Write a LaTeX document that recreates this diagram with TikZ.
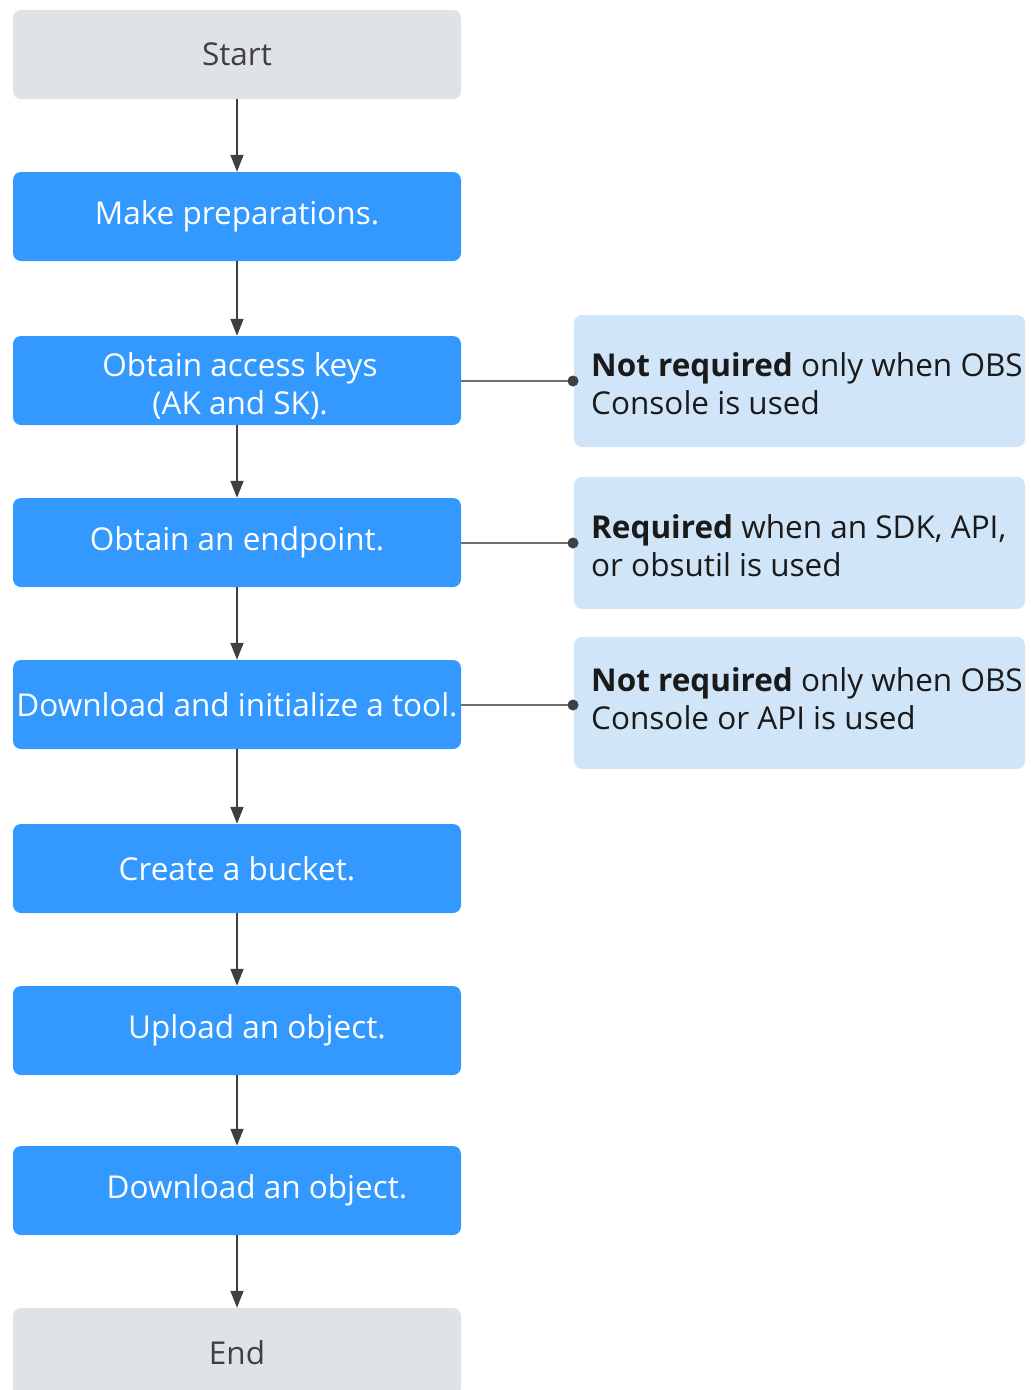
\documentclass[tikz,border=0pt]{standalone}
\usepackage{fontspec}
\setmainfont{Open Sans}
\usetikzlibrary{arrows.meta}
\definecolor{stepblue}{HTML}{3399FF}
\definecolor{termgrey}{HTML}{E0E3E6}
\definecolor{notefill}{HTML}{D1E5F8}
\definecolor{linedark}{HTML}{404040}
\definecolor{tiegrey}{HTML}{707070}
\definecolor{notetext}{HTML}{1A1A1A}
\begin{document}
\begin{tikzpicture}[x=1pt,y=-1pt,
  labelfont/.style={font=\fontsize{31.5}{38}\selectfont},
  box/.style={rectangle,rounded corners=8pt,minimum width=448pt,minimum height=89pt,
    inner sep=0pt,align=center,labelfont},
  stepbox/.style={box,fill=stepblue,text=white},
  termbox/.style={box,fill=termgrey,text=linedark},
  notebox/.style={rectangle,rounded corners=8pt,minimum width=451pt,minimum height=132pt,
    fill=notefill,inner sep=0pt},
  notetextstyle/.style={align=left,inner sep=0pt,text=notetext,labelfont},
  flow/.style={draw=linedark,line width=1.6pt,-{Triangle[length=17pt,width=13pt]}},
  tie/.style={draw=tiegrey,line width=2.2pt},
  dotend/.style={circle,fill=linedark,inner sep=0pt,minimum size=11pt}
]
\clip (0,0) rectangle (1031,1390);
\fill[white] (0,0) rectangle (1031,1390);

% main column
\node[termbox] (start) at (237,54.5) {Start};
\node[stepbox] (prep) at (237,216.5) {Make preparations.};
\node[stepbox] (keys) at (237,380.5) {};
\node[align=center,inner sep=0pt,text=white,labelfont] (keystext) at (240,386.5) {Obtain access keys\\(AK and SK).};
\node[stepbox] (endp) at (237,542.5) {Obtain an endpoint.};
\node[stepbox] (tool) at (237,704.5) {Download and initialize a tool.};
\node[stepbox] (bucket) at (237,868.5) {Create a bucket.};
\node[stepbox] (upload) at (237,1030.5) {\hspace*{40pt}Upload an object.};
\node[stepbox] (download) at (237,1190.5) {\hspace*{40pt}Download an object.};
\node[termbox] (finish) at (237,1352.5) {End};

\foreach \a/\b in {start/prep,prep/keys,keys/endp,endp/tool,tool/bucket,bucket/upload,upload/download,download/finish}
  \draw[flow] (\a) -- (\b);

% side notes
\node[notebox] (n1) at (799.5,381) {};
\node[notebox] (n2) at (799.5,543) {};
\node[notebox] (n3) at (799.5,703) {};
\node[notetextstyle,anchor=west] (t1) at (591,384) {\textbf{Not required} only when OBS\\Console is used};
\node[notetextstyle,anchor=west] (t2) at (591,546) {\textbf{Required} when an SDK, API,\\or obsutil is used};
\node[notetextstyle,anchor=west] (t3) at (591,699) {\textbf{Not required} only when OBS\\Console or API is used};

\coordinate (c1) at (573,381);
\coordinate (c2) at (573,543);
\coordinate (c3) at (573,705);
\draw[tie] (keys.east |- c1) -- (c1);
\draw[tie] (endp.east |- c2) -- (c2);
\draw[tie] (tool.east |- c3) -- (c3);
\node[dotend] (d1) at (c1) {};
\node[dotend] (d2) at (c2) {};
\node[dotend] (d3) at (c3) {};
\end{tikzpicture}
\end{document}
